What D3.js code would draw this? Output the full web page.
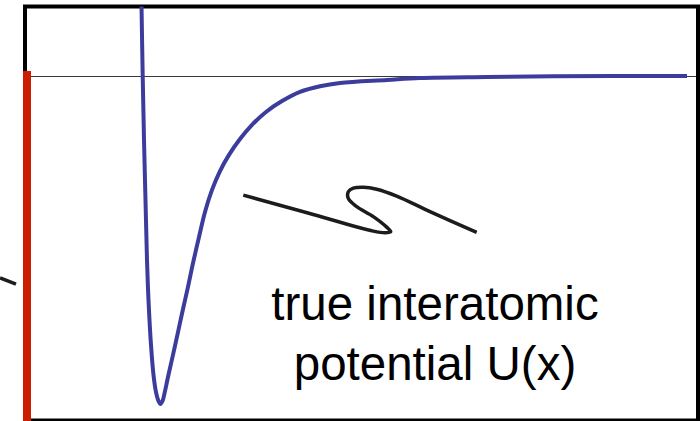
<!DOCTYPE html>
<html>
<head>
<meta charset="utf-8">
<script src="https://cdn.jsdelivr.net/npm/d3@7"></script>
<style>
  html, body { margin: 0; padding: 0; background: #fff; }
  svg { display: block; }
</style>
</head>
<body>
<svg id="chart" width="700" height="421"></svg>
<script>
// separation x (arbitrary units) and potential U (units of well depth)
const curveX = [1.165, 1.177, 1.19, 1.205, 1.22, 1.235, 1.26, 1.285, 1.31, 1.335, 1.355, 1.375, 1.40, 1.43, 1.48, 1.53, 1.58, 1.63, 1.68, 1.74, 1.80, 1.87, 1.95, 2.04, 2.15, 2.27, 2.41, 2.57, 2.75, 2.95, 3.15, 3.62, 3.95, 4.62, 5.28, 6.62];
const curveU = [0.215, 0, -0.194, -0.376, -0.558, -0.679, -0.815, -0.906, -0.958, -0.985, -0.994, -0.985, -0.955, -0.912, -0.845, -0.776, -0.706, -0.639, -0.567, -0.488, -0.412, -0.345, -0.288, -0.239, -0.191, -0.148, -0.109, -0.076, -0.048, -0.031, -0.021, -0.012, -0.006, -0.003, -0.001, 0];
// hard-wall (red) at x = 0.02, from U = 0.015 downward
const wallX = [0.02, 0.02];
const wallU = [0.015, -1.05];
// zero-energy reference line
const zeroX = [0.02, 6.72];
const zeroU = [0, 0];
// annotation squiggle (pointer) in data units
const squigX = [2.183, 2.83, 3.483, 3.60, 3.657, 3.617, 3.483, 3.317, 3.233, 3.233, 3.283, 3.383, 3.517, 3.717, 4.05, 4.517];
const squigU = [-0.361, -0.415, -0.470, -0.475, -0.472, -0.458, -0.426, -0.396, -0.371, -0.351, -0.340, -0.337, -0.343, -0.364, -0.411, -0.474];
// small stray tick at far left
const tickX = [-0.25, -0.09];
const tickU = [-0.612, -0.631];
const labelLines = ["true interatomic", "potential U(x)"];

const svg = d3.select("#chart");
const x = d3.scaleLinear().domain([0, 6.72]).range([25, 697]);
const y = d3.scaleLinear().domain([0, -1]).range([76, 406]);

const line = (xs, us, curve) => d3.line()
  .x(i => x(xs[i])).y(i => y(us[i]))
  .curve(curve || d3.curveLinear)(d3.range(xs.length));

svg.append("defs").append("clipPath").attr("id", "clip")
  .append("rect").attr("x", 25).attr("y", 6.5).attr("width", 673).attr("height", 420);

// zero line
svg.append("path").attr("d", line(zeroX, zeroU))
  .attr("transform", "translate(0,0.5)")
  .attr("stroke", "#3a3a3a").attr("stroke-width", 1.2).attr("fill", "none");

// frame
svg.append("rect").attr("x", 25).attr("y", 6.5).attr("width", 673).attr("height", 414)
  .attr("fill", "none").attr("stroke", "#000").attr("stroke-width", 4);

// potential curve
svg.append("path").attr("d", line(curveX, curveU, d3.curveCatmullRom.alpha(0.5)))
  .attr("clip-path", "url(#clip)")
  .attr("stroke", "#3c3c9c").attr("stroke-width", 4).attr("fill", "none")
  .attr("stroke-linejoin", "round");

// hard wall
svg.append("path").attr("d", line(wallX, wallU))
  .attr("stroke", "#cc1e00").attr("stroke-width", 8).attr("fill", "none");

// squiggle pointer
svg.append("path").attr("d", line(squigX, squigU, d3.curveCatmullRom.alpha(0.5)))
  .attr("stroke", "#1c1c1c").attr("stroke-width", 3.5).attr("fill", "none")
  .attr("stroke-linecap", "butt").attr("stroke-linejoin", "round");

// left tick
svg.append("path").attr("d", line(tickX, tickU))
  .attr("stroke", "#1c1c1c").attr("stroke-width", 3.5).attr("fill", "none");

// label
const t = svg.append("text")
  .attr("font-family", "'Liberation Sans', Arial, Helvetica, sans-serif")
  .attr("font-size", 47.5).attr("fill", "#000").attr("text-anchor", "middle");
labelLines.forEach((s, i) => {
  t.append("tspan").attr("x", 435).attr("y", 320 + i * 60).text(s);
});
</script>
</body>
</html>
